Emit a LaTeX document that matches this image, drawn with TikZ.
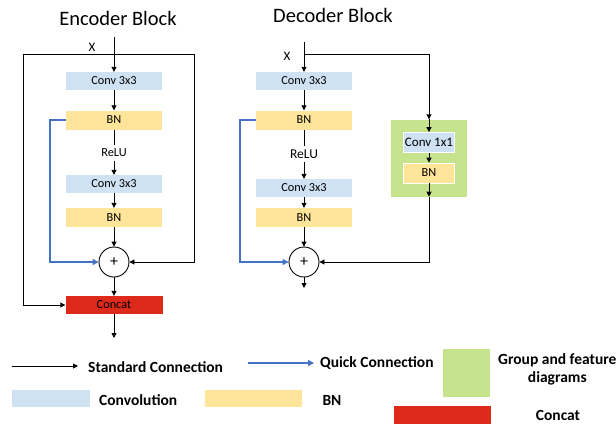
\documentclass[tikz,border=0pt]{standalone}
\usepackage{fontspec}
\setmainfont{Carlito}
\usetikzlibrary{arrows.meta}

\definecolor{convBlue}{RGB}{207,226,243}
\definecolor{bnYellow}{RGB}{255,229,153}
\definecolor{groupGreen}{RGB}{198,228,141}
\definecolor{concatRed}{RGB}{221,42,27}
\definecolor{quickBlue}{RGB}{68,114,196}

\tikzset{
  every node/.style={font=\fontsize{12.3}{14}\selectfont},
  conv/.style={fill=convBlue, minimum width=96pt, minimum height=18pt, inner sep=0pt},
  bn/.style={fill=bnYellow, minimum width=96pt, minimum height=19pt, inner sep=0pt},
  concat/.style={fill=concatRed, minimum width=97pt, minimum height=18pt, inner sep=0pt},
  group/.style={fill=groupGreen, minimum width=76pt, minimum height=77pt, inner sep=0pt},
  small/.style={draw=white, line width=0.8pt, minimum width=51pt, minimum height=20pt, inner sep=0pt},
  addop/.style={circle, draw, line width=0.9pt, minimum size=30pt, inner sep=0pt, font=\fontsize{16}{16}\selectfont},
  std/.style={line width=0.9pt, -{Triangle[length=5pt,width=5pt]}},
  quick/.style={quickBlue, line width=1.4pt, -{Triangle[length=6pt,width=6pt]}},
  legendText/.style={font=\fontsize{15.5}{17}\selectfont\bfseries},
  title/.style={font=\fontsize{20.5}{22}\selectfont}
}

\begin{document}
\begin{tikzpicture}[x=1pt, y=-1pt]
\useasboundingbox (0,0) rectangle (616,426);

\def\encX{114}
\def\decX{304}
\def\sideX{429}
\def\addY{262}

% encoder block
\node[title] (encTitle) at (118,18) {Encoder Block};
\node[font=\fontsize{13}{14}\selectfont] (encXLabel) at (92,47) {X};
\coordinate (encIn) at (\encX,37);
\coordinate (encTL) at (23,54);
\coordinate (encTR) at (194,54);
\node[conv] (encConvA) at (\encX,81) {Conv 3x3};
\node[bn] (encBnA) at (\encX,120) {BN};
\node (encRelu) at (\encX,153) {ReLU};
\node[conv] (encConvB) at (\encX,184) {Conv 3x3};
\node[bn] (encBnB) at (\encX,217.5) {BN};
\node[addop] (encAdd) at (\encX,\addY) {+};
\node[concat] (encConcat) at (\encX,305) {Concat};
\coordinate (encOut) at (\encX,338);

\draw[std] (encIn) -- (encConvA);
\draw[std] (encConvA) -- (encBnA);
\draw[line width=0.9pt] (encBnA) -- (encRelu);
\draw[std] (encRelu) -- (encConvB);
\draw[std] (encConvB) -- (encBnB);
\draw[std] (encBnB) -- (encAdd);
\draw[std] (encAdd) -- (encConcat);
\draw[std] (encConcat) -- (encOut);
\draw[line width=0.9pt] (encTL) -- (encTR);
\draw[std] (encTR) |- (encAdd.east);
\draw[std] (encTL) |- (encConcat.west);
\draw[quick] (encBnA.west) -- ++(-16,0) |- (encAdd.west);

% decoder block
\node[title] (decTitle) at (333,15) {Decoder Block};
\node[font=\fontsize{13}{14}\selectfont] (decXLabel) at (287,56) {X};
\coordinate (decIn) at (\decX,42);
\coordinate (decSplit) at (\decX,54);
\coordinate (decTR) at (\sideX,54);
\node[conv] (decConvA) at (\decX,81) {Conv 3x3};
\node[bn] (decBnA) at (\decX,120) {BN};
\node[font=\fontsize{13.5}{15}\selectfont] (decRelu) at (\decX,154) {ReLU};
\node[conv] (decConvB) at (\decX,188) {Conv 3x3};
\node[bn] (decBnB) at (\decX,217.5) {BN};
\node[addop] (decAdd) at (\decX,\addY) {+};
\coordinate (decOut) at (\decX,288);

\node[group] (decGroup) at (\sideX,158) {};
\node[small, fill=convBlue, font=\fontsize{13}{14}\selectfont] (decConvC) at (\sideX,142.5) {Conv 1x1};
\node[small, fill=bnYellow] (decBnC) at (\sideX,173) {BN};

\draw[std] (decIn) -- (decConvA);
\draw[std] (decConvA) -- (decBnA);
\draw[line width=0.9pt] (decBnA) -- (decRelu);
\draw[std] (decRelu) -- (decConvB);
\draw[std] (decConvB) -- (decBnB);
\draw[std] (decBnB) -- (decAdd);
\draw[std] (decAdd) -- (decOut);
\draw[line width=0.9pt] (decSplit) -- (decTR);
\draw[std] (decTR) -- (decGroup.north);
\draw[std] (decGroup.north) -- (decConvC);
\draw[std] (decConvC) -- (decBnC);
\draw[std] (decBnC) -- (decGroup.south);
\draw[std] (decGroup.south) |- (decAdd.east);
\draw[quick] (decBnA.west) -- ++(-16,0) |- (decAdd.west);

% legend
\coordinate (stdFrom) at (12,366);
\coordinate (stdTo) at (78,366);
\draw[std] (stdFrom) -- (stdTo);
\node[legendText, anchor=west, inner sep=0pt] (stdText) at (88,367) {Standard Connection};
\coordinate (quickFrom) at (248,363);
\coordinate (quickTo) at (314,363);
\draw[quick] (quickFrom) -- (quickTo);
\node[legendText, anchor=west, inner sep=0pt] (quickText) at (320,363) {Quick Connection};
\node[fill=groupGreen, minimum width=47pt, minimum height=48pt, inner sep=0pt] (groupKey) at (466.5,373) {};
\node[legendText, anchor=north west, align=center, inner sep=0pt, font=\fontsize{15.5}{18}\selectfont\bfseries] (groupText) at (498,353) {Group and feature\\diagrams};
\node[fill=convBlue, minimum width=78pt, minimum height=17pt, inner sep=0pt] (convKey) at (51,398.5) {};
\node[legendText, anchor=west, inner sep=0pt] (convText) at (99,400) {Convolution};
\node[fill=bnYellow, minimum width=97pt, minimum height=17pt, inner sep=0pt] (bnKey) at (253.5,398.5) {};
\node[legendText] (bnText) at (332,400) {BN};
\node[fill=concatRed, minimum width=97pt, minimum height=18pt, inner sep=0pt] (concatKey) at (442.5,414.5) {};
\node[legendText] (concatText) at (558,415) {Concat};

\end{tikzpicture}
\end{document}
